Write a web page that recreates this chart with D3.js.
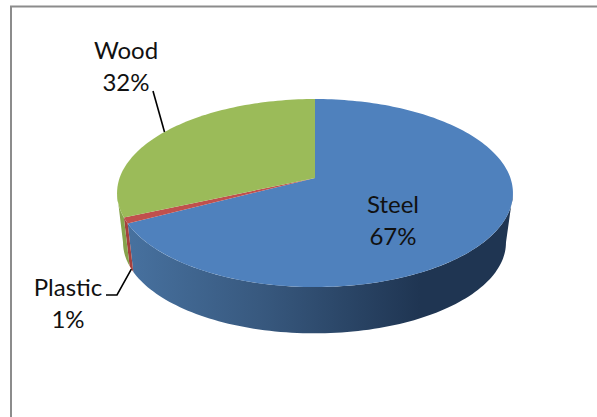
<!DOCTYPE html>
<html>
<head>
<meta charset="utf-8">
<script src="https://cdn.jsdelivr.net/npm/d3@7"></script>
<style>
  html, body { margin: 0; padding: 0; background: #fff; overflow: hidden; }
  text { font-family: Lato, "Open Sans", sans-serif; font-size: 24px; fill: #111; }
</style>
</head>
<body>
<script>
var categories = ["Steel", "Plastic", "Wood"];
var shares = [67.4, 1, 31.6];
var shareLabels = ["67%", "1%", "32%"];
var topColors = ["#4f81bd", "#c0504d", "#9bbb59"];

var svg = d3.select("body").append("svg")
  .attr("width", 597)
  .attr("height", 417);

// chart frame, runs off the right and bottom of the crop
svg.append("path")
  .attr("d", "M11,417V6.5H597")
  .attr("fill", "none")
  .attr("stroke", "#8c8c8c")
  .attr("stroke-width", 2);

var defs = svg.append("defs");
var sideGrad = defs.append("linearGradient")
  .attr("id", "steelSide")
  .attr("gradientUnits", "userSpaceOnUse")
  .attr("x1", 128).attr("x2", 420).attr("y1", 0).attr("y2", 0);
sideGrad.append("stop").attr("offset", 0).attr("stop-color", "#47719f");
sideGrad.append("stop").attr("offset", 0.45).attr("stop-color", "#38597f");
sideGrad.append("stop").attr("offset", 1).attr("stop-color", "#1f3552");

var sideColors = ["url(#steelSide)", "#a5403d", "#86a34c"];

// the pie sits in perspective, so the centre is not the middle of the ellipse
var tilt = 0.16;
function project(angle, c) {
  var u = Math.sin(angle), v = Math.cos(angle), w = 1 + tilt * v;
  return [c.x + c.a * u / w, c.y - c.b * v / w];
}
var topFace = { x: 315, y: 178, a: 195.4, b: 91.6 };
var bottomFace = { x: 314.5, y: 228, a: 189, b: 88.5 };

var pie = d3.pie().sort(null).startAngle(0).endAngle(2 * Math.PI);
var slices = pie(shares);
var line = d3.line();

function arcAngles(from, to) {
  var n = Math.max(4, Math.ceil((to - from) * 40));
  return d3.range(n + 1).map(function (k) { return from + (to - from) * k / n; });
}

// side walls: only the part facing the viewer, from the right extreme to the left one
var frontFrom = Math.acos(-tilt), frontTo = 2 * Math.PI - frontFrom;
slices.forEach(function (s, i) {
  var from = Math.max(s.startAngle, frontFrom), to = Math.min(s.endAngle, frontTo);
  var angles = arcAngles(from, to);
  var pts = angles.map(function (a) { return project(a, topFace); })
    .concat(angles.slice().reverse().map(function (a) { return project(a, bottomFace); }));
  svg.append("path")
    .attr("d", line(pts) + "Z")
    .attr("fill", sideColors[i]);
});

// top faces
svg.append("g").selectAll("path")
  .data(slices)
  .join("path")
  .attr("d", function (s) {
    var pts = arcAngles(s.startAngle, s.endAngle).map(function (a) { return project(a, topFace); });
    return line([[topFace.x, topFace.y]].concat(pts)) + "Z";
  })
  .attr("fill", function (s, i) { return topColors[i]; });

// leader lines
var midAngle = function (s) { return (s.startAngle + s.endAngle) / 2; };
var leaders = [
  [project(midAngle(slices[2]), topFace), [153, 91]],
  [project(midAngle(slices[1]), bottomFace), [117, 295], [106, 295]]
];
svg.append("g").selectAll("path")
  .data(leaders)
  .join("path")
  .attr("d", line)
  .attr("fill", "none")
  .attr("stroke", "#000")
  .attr("stroke-width", 1.6);

// labels
var labelPos = [[393, 213], [68, 296], [126, 59]];
var labels = svg.append("g").selectAll("text")
  .data(categories)
  .join("text")
  .attr("text-anchor", "middle")
  .attr("x", function (d, i) { return labelPos[i][0]; })
  .attr("y", function (d, i) { return labelPos[i][1]; });
labels.append("tspan").text(function (d) { return d; });
labels.append("tspan")
  .attr("x", function (d, i) { return labelPos[i][0]; })
  .attr("dy", 32)
  .text(function (d, i) { return shareLabels[i]; });
</script>
</body>
</html>
